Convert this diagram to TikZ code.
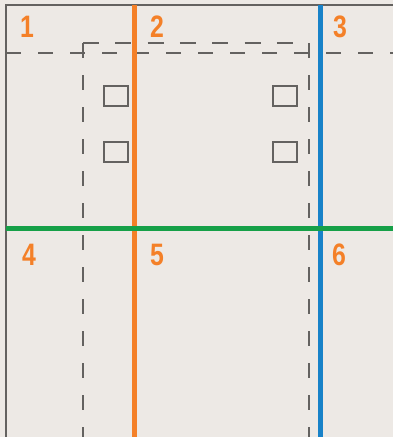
\documentclass[tikz,border=0pt]{standalone}
\usepackage{fontspec}
\setsansfont[FakeStretch=0.8]{Liberation Sans}
\usetikzlibrary{positioning}

\definecolor{paper}{RGB}{237,233,229}
\definecolor{linegray}{RGB}{100,98,96}
\definecolor{numorange}{RGB}{244,128,40}
\definecolor{foldblue}{RGB}{24,130,200}
\definecolor{foldgreen}{RGB}{22,160,72}

\begin{document}
\begin{tikzpicture}[
    x=1pt, y=-1pt,
    num/.style={text=numorange, font=\sffamily\bfseries\fontsize{31}{31}\selectfont, inner sep=0pt, anchor=center},
    cut/.style={draw=linegray, line width=1.3pt, dash pattern=on 15pt off 17pt},
    hole/.style={draw=linegray, line width=2pt, rectangle, minimum width=24pt, minimum height=20pt, inner sep=0pt},
    fold/.style={line width=5pt}
]
    % Sheet
    \fill[paper] (0,0) rectangle (393,437);
    \useasboundingbox (0,0) rectangle (393,437);
    \draw[linegray, line width=1.5pt] (6,437) -- (6,5) -- (393,5);

    % Dashed guides
    \draw[cut] (6,53) -- (393,53);
    \draw[cut, dash pattern=on 16pt off 16.3pt] (83,43) -- (309,43);
    \draw[cut] (83,43) -- (83,437);
    \draw[cut] (309,43) -- (309,437);

    % Holes
    \node[hole] (holeA) at (115.5,95.5) {};
    \node[hole] (holeB) at (115.5,151.5) {};
    \node[hole] (holeC) at (284.5,95.5) {};
    \node[hole] (holeD) at (284.5,151.5) {};

    % Fold lines
    \draw[fold, numorange, line width=4.5pt] (134.5,5) -- (134.5,437);
    \draw[fold, foldblue] (320.5,5) -- (320.5,437);
    \draw[fold, foldgreen] (6,228) -- (393,228);

    % Numbers
    \node[num] (n1) at (27,27) {1};
    \node[num] (n2) at (157,27) {2};
    \node[num] (n3) at (340,27) {3};
    \node[num] (n4) at (29,255) {4};
    \node[num] (n5) at (157,255) {5};
    \node[num] (n6) at (339,255) {6};
\end{tikzpicture}
\end{document}
